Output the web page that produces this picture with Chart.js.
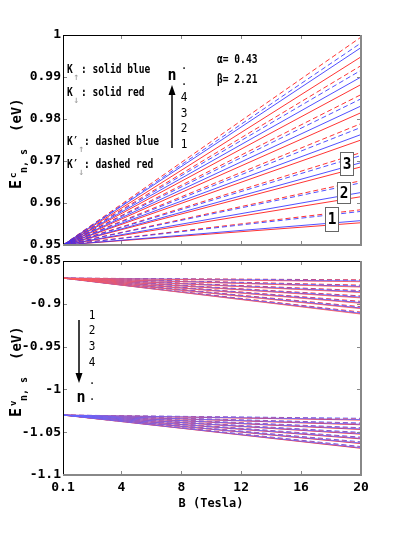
<!DOCTYPE html>
<html>
<head>
<meta charset="utf-8">
<script src="https://cdn.jsdelivr.net/npm/chart.js@4.4.1/dist/chart.umd.min.js"></script>
<style>
html, body { margin: 0; padding: 0; background: #fff; }
#wrap { position: relative; width: 399px; height: 536px; overflow: hidden; }
#topChart { position: absolute; left: 0; top: 0; }
#botChart { position: absolute; left: 0; top: 250px; }
</style>
</head>
<body>
<div id="wrap">
	<canvas id="topChart" width="399" height="262"></canvas>
	<canvas id="botChart" width="399" height="286"></canvas>
</div>
<script>
// axis ticks
const B = [0.1, 20];
const xTicks = [0.1, 4, 8, 12, 16, 20];
const xTickLabels = ['0.1', '4', '8', '12', '16', '20'];
const cTicks = [0.95, 0.96, 0.97, 0.98, 0.99, 1];
const cTickLabels = ['0.95', '0.96', '0.97', '0.98', '0.99', '1'];
const vTicks = [-1.1, -1.05, -1, -0.95, -0.9, -0.85];
const vTickLabels = ['-1.1', '-1.05', '-1', '-0.95', '-0.9', '-0.85'];

// conduction band : every level starts at 0.95 eV (B = 0.1 T), values at B = 20 T for n = 1..7
const cStart = 0.95;
const cSolidBlue = [0.9558, 0.9625, 0.9696, 0.9763, 0.9831, 0.9900, 0.9970];
const cSolidRed  = [0.9553, 0.9615, 0.9686, 0.9750, 0.9815, 0.9882, 0.9948];
const cDashBlue  = [0.9580, 0.9648, 0.9713, 0.9780, 0.9848, 0.9916, 0.9981];
const cDashRed   = [0.9584, 0.9653, 0.9720, 0.9789, 0.9858, 0.9927, 0.9995];

// valence band, upper branch (starts at -0.87 eV)
const vUpStart = -0.87;
const vUpSolidBlue = [-0.8735, -0.8798, -0.8861, -0.8924, -0.8987, -0.9050, -0.9113];
const vUpDashRed   = [-0.8720, -0.8782, -0.8845, -0.8908, -0.8971, -0.9034, -0.9097];
const vUpDashBlue  = [-0.8726, -0.8789, -0.8852, -0.8915, -0.8978, -0.9041, -0.9104];
const vUpSolidRed  = [-0.8742, -0.8805, -0.8868, -0.8931, -0.8994, -0.9057, -0.9120];

// valence band, lower branch (starts at -1.03 eV)
const vLoStart = -1.03;
const vLoSolidRed  = [-1.0358, -1.0413, -1.0468, -1.0523, -1.0578, -1.0633, -1.0688];
const vLoDashBlue  = [-1.0338, -1.0393, -1.0448, -1.0503, -1.0558, -1.0613, -1.0668];
const vLoDashRed   = [-1.0345, -1.0400, -1.0455, -1.0510, -1.0565, -1.0620, -1.0675];
const vLoSolidBlue = [-1.0352, -1.0407, -1.0462, -1.0517, -1.0572, -1.0627, -1.0682];

const RED = 'rgba(255,30,30,0.9)';
const BLUE = 'rgba(50,50,255,0.85)';
const LRED = 'rgba(255,90,90,0.85)';
const LBLUE = 'rgba(100,100,255,0.85)';
const DASH = [5, 3];
const MONO = "'DejaVu Sans Mono', monospace";

// 직선 데이터셋 생성
const lines = (start, ends, color, dash) => ends.map((e) => ({
	data: [{ x: B[0], y: start }, { x: B[1], y: e }],
	borderColor: color,
	borderDash: dash,
	borderWidth: 1,
	pointRadius: 0,
	fill: false,
	tension: 0
}));

// 텍스트 헬퍼 (가로로 좁힌 글꼴)
const txt = (ctx, s, x, y, font, color, align, sx) => {
	ctx.save();
	ctx.translate(x, y);
	ctx.scale(sx || 1, 1);
	ctx.font = font;
	ctx.fillStyle = color || '#000';
	ctx.textAlign = align || 'left';
	ctx.textBaseline = 'middle';
	ctx.fillText(s, 0, 0);
	ctx.restore();
};

const arrow = (ctx, x, y0, y1) => {
	ctx.save();
	ctx.strokeStyle = '#000';
	ctx.fillStyle = '#000';
	ctx.lineWidth = 1.5;
	const dir = y1 < y0 ? 1 : -1;
	ctx.beginPath();
	ctx.moveTo(x, y0);
	ctx.lineTo(x, y1 + dir * 8);
	ctx.stroke();
	ctx.beginPath();
	ctx.moveTo(x, y1);
	ctx.lineTo(x - 3.5, y1 + dir * 10);
	ctx.lineTo(x + 3.5, y1 + dir * 10);
	ctx.closePath();
	ctx.fill();
	ctx.restore();
};

const yTitle = (ctx, x, y, sup) => {
	ctx.save();
	ctx.translate(x, y);
	ctx.rotate(-Math.PI / 2);
	ctx.fillStyle = '#000';
	ctx.textBaseline = 'alphabetic';
	ctx.textAlign = 'left';
	ctx.font = 'bold 15px ' + MONO;
	ctx.fillText('E', 1, 0);
	ctx.font = 'bold 9px ' + MONO;
	ctx.fillText(sup, 12, -5);
	ctx.font = 'bold 10px ' + MONO;
	ctx.fillText('n, s', 17, 6);
	ctx.font = 'bold 14px ' + MONO;
	ctx.fillText('(eV)', 58, 0);
	ctx.restore();
};

const frame = (chart, yTickVals) => {
	const ctx = chart.ctx;
	const ca = chart.chartArea;
	const xs = chart.scales.x;
	const ys = chart.scales.y;
	ctx.save();
	ctx.strokeStyle = '#888';
	ctx.lineWidth = 1;
	xTicks.slice(1, -1).forEach((v) => {
		const px = Math.round(xs.getPixelForValue(v)) + 0.5;
		ctx.beginPath();
		ctx.moveTo(px, ca.bottom); ctx.lineTo(px, ca.bottom - 4);
		ctx.moveTo(px, ca.top); ctx.lineTo(px, ca.top + 4);
		ctx.stroke();
	});
	yTickVals.slice(1, -1).forEach((v) => {
		const py = Math.round(ys.getPixelForValue(v)) + 0.5;
		ctx.beginPath();
		ctx.moveTo(ca.right, py); ctx.lineTo(ca.right - 4, py);
		ctx.moveTo(ca.left, py); ctx.lineTo(ca.left + 4, py);
		ctx.stroke();
	});
	ctx.strokeStyle = '#000';
	ctx.lineWidth = 1;
	ctx.beginPath();
	ctx.moveTo(ca.left, ca.top + 0.5); ctx.lineTo(ca.right, ca.top + 0.5);
	ctx.moveTo(ca.left + 0.5, ca.top); ctx.lineTo(ca.left + 0.5, ca.bottom);
	ctx.stroke();
	ctx.strokeStyle = '#888';
	ctx.lineWidth = 2;
	ctx.beginPath();
	ctx.moveTo(ca.left, ca.bottom); ctx.lineTo(ca.right + 1, ca.bottom);
	ctx.moveTo(ca.right, ca.top); ctx.lineTo(ca.right, ca.bottom);
	ctx.stroke();
	ctx.restore();
};

const topDeco = {
	id: 'topDeco',
	afterDraw: (chart) => {
		const ctx = chart.ctx;
		frame(chart, cTicks);
		yTitle(ctx, 21, 190, 'c');

		const f = 'bold 12px ' + MONO;
		const sx = 0.8;
		const af = '10px ' + MONO;
		// 범례 텍스트
		txt(ctx, 'K', 67, 70, f, '#000', 'left', sx);
		txt(ctx, '↑', 73, 77, af, '#999', 'left');
		txt(ctx, ': solid blue', 81, 70, f, '#000', 'left', sx);
		txt(ctx, 'K', 67, 93, f, '#000', 'left', sx);
		txt(ctx, '↓', 73, 100, af, '#999', 'left');
		txt(ctx, ': solid red', 81, 93, f, '#000', 'left', sx);
		txt(ctx, 'K′', 67, 142, f, '#000', 'left', sx);
		txt(ctx, '↑', 78, 149, af, '#999', 'left');
		txt(ctx, ': dashed blue', 84, 142, f, '#000', 'left', sx);
		txt(ctx, 'K′', 67, 165, f, '#000', 'left', sx);
		txt(ctx, '↓', 78, 172, af, '#999', 'left');
		txt(ctx, ': dashed red', 84, 165, f, '#000', 'left', sx);

		txt(ctx, 'α= 0.43', 217, 60, f, '#000', 'left', sx);
		txt(ctx, 'β= 2.21', 217, 80, f, '#000', 'left', sx);

		// n 화살표
		arrow(ctx, 172, 148, 85);
		txt(ctx, 'n', 172, 76, 'bold 15px ' + MONO, '#000', 'center');
		const nums = ['.', '.', '4', '3', '2', '1'];
		const ny = [66, 82, 98, 114, 129, 145];
		nums.forEach((s, i) => txt(ctx, s, 184, ny[i], '13px ' + MONO, '#000', 'center', 0.85));

		// 박스 레이블
		const boxes = [['3', 340, 152, 13, 23], ['2', 337, 182, 13, 21], ['1', 325, 207, 13, 24]];
		boxes.forEach(([s, x, y, w, h]) => {
			ctx.save();
			ctx.fillStyle = '#fff';
			ctx.fillRect(x, y, w, h);
			ctx.strokeStyle = '#666';
			ctx.lineWidth = 1;
			ctx.strokeRect(x + 0.5, y + 0.5, w, h);
			ctx.restore();
			txt(ctx, s, x + w / 2 + 0.5, y + h / 2 + 1, 'bold 16px ' + MONO, '#000', 'center', 0.9);
		});
	}
};

const botDeco = {
	id: 'botDeco',
	afterDraw: (chart) => {
		const ctx = chart.ctx;
		const off = 250;
		frame(chart, vTicks);
		yTitle(ctx, 21, 418 - off, 'v');

		arrow(ctx, 79, 320 - off, 383 - off);
		const nums = ['1', '2', '3', '4', '.', '.'];
		const ny = [316, 331, 347, 363, 381, 397];
		nums.forEach((s, i) => txt(ctx, s, 92, ny[i] - off, '13px ' + MONO, '#000', 'center', 0.85));
		txt(ctx, 'n', 81, 398 - off, 'bold 15px ' + MONO, '#000', 'center');

		txt(ctx, 'B (Tesla)', 211, 504 - off, 'bold 13px ' + MONO, '#000', 'center', 0.92);
	}
};

const tickFont = { family: MONO, size: 13, weight: 'bold' };

const yScale = (min, max, vals, labels) => ({
	type: 'linear',
	min: min,
	max: max,
	afterBuildTicks: (s) => { s.ticks = vals.map((v) => ({ value: v })); },
	afterFit: (s) => { s.width = 63; },
	ticks: {
		autoSkip: false,
		padding: 2,
		color: '#000',
		font: tickFont,
		callback: (v, i) => labels[i]
	},
	grid: { display: false, drawTicks: false },
	border: { display: false }
});

const baseOpts = {
	responsive: false,
	animation: false,
	devicePixelRatio: 1,
	plugins: { legend: { display: false }, tooltip: { enabled: false } }
};

const topChart = new Chart(document.getElementById('topChart'), {
	type: 'line',
	data: {
		datasets: [].concat(
			lines(cStart, cDashBlue, BLUE, DASH),
			lines(cStart, cDashRed, RED, DASH),
			lines(cStart, cSolidBlue, BLUE, []),
			lines(cStart, cSolidRed, RED, [])
		)
	},
	options: Object.assign({}, baseOpts, {
		layout: { padding: { top: 35, right: 38, bottom: 17, left: 0 } },
		scales: {
			x: { type: 'linear', min: B[0], max: B[1], display: false },
			y: yScale(0.95, 1, cTicks, cTickLabels)
		}
	}),
	plugins: [topDeco]
});

const botChart = new Chart(document.getElementById('botChart'), {
	type: 'line',
	data: {
		datasets: [].concat(
			lines(vUpStart, vUpSolidRed, LRED, []),
			lines(vUpStart, vUpDashBlue, LBLUE, DASH),
			lines(vUpStart, vUpSolidBlue, BLUE, []),
			lines(vUpStart, vUpDashRed, RED, DASH),
			lines(vLoStart, vLoSolidBlue, LBLUE, []),
			lines(vLoStart, vLoDashRed, LRED, DASH),
			lines(vLoStart, vLoSolidRed, RED, []),
			lines(vLoStart, vLoDashBlue, BLUE, DASH)
		)
	},
	options: Object.assign({}, baseOpts, {
		layout: { padding: { top: 11, right: 38, bottom: 0, left: 0 } },
		scales: {
			x: {
				type: 'linear',
				min: B[0],
				max: B[1],
				afterBuildTicks: (s) => { s.ticks = xTicks.map((v) => ({ value: v })); },
				afterFit: (s) => { s.height = 61; },
				ticks: {
					autoSkip: false,
					maxRotation: 0,
					padding: 5,
					color: '#000',
					font: tickFont,
					callback: (v, i) => xTickLabels[i]
				},
				grid: { display: false, drawTicks: false },
				border: { display: false }
			},
			y: yScale(-1.1, -0.85, vTicks, vTickLabels)
		}
	}),
	plugins: [botDeco]
});
</script>
</body>
</html>
